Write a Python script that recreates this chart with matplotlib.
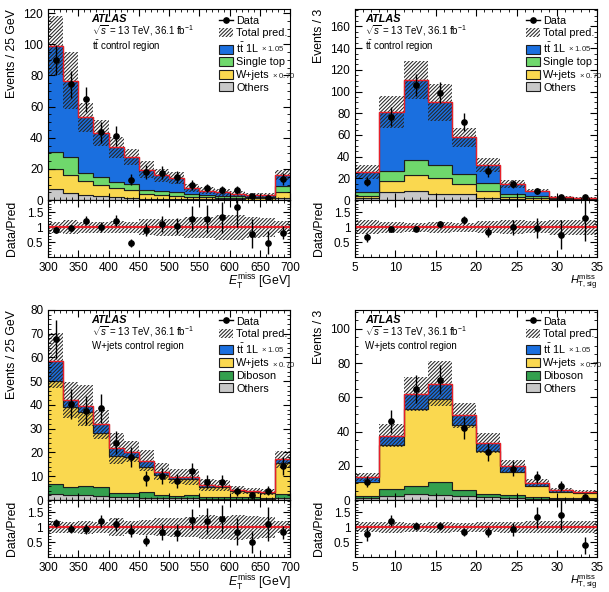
import numpy as np
import matplotlib
matplotlib.use('Agg')
import matplotlib.pyplot as plt
from matplotlib.patches import Patch
from matplotlib.lines import Line2D
from matplotlib.ticker import MultipleLocator

plt.rcParams['font.family'] = ['Liberation Sans', 'DejaVu Sans']
plt.rcParams['mathtext.fontset'] = 'custom'
plt.rcParams['mathtext.rm'] = 'Liberation Sans'
plt.rcParams['mathtext.it'] = 'Liberation Sans:italic'
plt.rcParams['mathtext.bf'] = 'Liberation Sans:bold'
plt.rcParams['hatch.linewidth'] = 0.75

# binning
met_edges = np.arange(300, 701, 25)
sig_edges = np.arange(5, 36, 3)

# ttbar control region, E_T^miss
tt_met_others = [7.2, 4.5, 3.3, 2.4, 1.7, 1.5, 1.0, 0.9, 0.6, 0.6, 0.5, 0.4, 0.4, 0.3, 0.3, 1.2]
tt_met_wjets = [12.5, 11.8, 8.7, 7.4, 5.9, 5.2, 2.9, 2.3, 2.2, 1.6, 1.2, 1.1, 0.9, 0.8, 0.8, 3.8]
tt_met_stop = [10.9, 11.5, 5.6, 5.0, 3.9, 3.7, 2.6, 2.4, 2.6, 1.7, 1.5, 1.3, 1.1, 0.9, 0.9, 4.0]
tt_met_ttbar = [68.4, 48.8, 35.4, 28.2, 22.3, 17.4, 13.0, 10.2, 8.9, 3.7, 2.9, 2.2, 1.5, 1.3, 1.3, 7.3]
tt_met_data = [90, 74.4, 64.6, 43.4, 41.2, 13, 18, 17.5, 15, 9.8, 7.8, 6.7, 6.5, 2.6, 1.6, 13.4]
tt_met_unc = [0.19, 0.24, 0.18, 0.19, 0.2, 0.19, 0.27, 0.28, 0.28, 0.35, 0.36, 0.42, 0.42, 0.36, 0.32, 0.2]

# ttbar control region, H_T,sig^miss
tt_sig_others = [2.2, 7.2, 8.4, 6.0, 5.3, 1.6, 0.8, 0.5, 0.3, 0.2]
tt_sig_wjets = [1.9, 10.0, 14.4, 14.3, 9.7, 6.8, 1.7, 1.1, 0.5, 0.4]
tt_sig_stop = [3.1, 9.9, 13.7, 12.4, 9.3, 7.5, 2.8, 1.9, 1.2, 0.6]
tt_sig_ttbar = [18.7, 54.3, 74.2, 57.3, 33.4, 16.1, 9.7, 5.3, 1.2, 1.0]
tt_sig_data = [17, 76.7, 106, 99, 72, 26.8, 15, 8.6, 2.4, 2.9]
tt_sig_unc = [0.24, 0.18, 0.16, 0.19, 0.15, 0.2, 0.24, 0.2, 0.26, 0.25]

# W+jets control region, E_T^miss
wj_met_others = [2.4, 2.1, 2.0, 1.7, 1.3, 1.1, 1.0, 0.8, 0.7, 0.7, 0.6, 0.6, 0.5, 0.5, 0.5, 1.0]
wj_met_diboson = [4.3, 3.4, 4.0, 3.9, 1.5, 1.7, 2.2, 1.3, 1.0, 1.4, 0.8, 0.8, 0.6, 0.6, 0.5, 1.5]
wj_met_wjets = [43.3, 33.8, 31.2, 22.4, 15.9, 15.4, 10.8, 8.4, 7.1, 6.7, 4.2, 3.9, 2.5, 2.2, 2.0, 12.9]
wj_met_ttbar = [8.7, 2.8, 2.5, 3.9, 3.1, 2.2, 2.6, 1.4, 1.0, 0.9, 0.7, 0.7, 0.6, 0.5, 0.5, 1.7]
wj_met_data = [67.6, 40.4, 37.5, 38.6, 24.1, 18.2, 9.1, 10.1, 8.0, 12.2, 7.7, 7.7, 3.6, 1.9, 3.9, 14.3]
wj_met_unc = [0.2, 0.18, 0.22, 0.19, 0.3, 0.21, 0.26, 0.3, 0.32, 0.34, 0.4, 0.38, 0.42, 0.38, 0.35, 0.2]

# W+jets control region, H_T,sig^miss
wj_sig_others = [1.4, 2.1, 3.3, 2.9, 2.1, 1.6, 1.0, 0.7, 0.5, 0.4]
wj_sig_diboson = [0.9, 4.1, 5.0, 7.8, 3.7, 1.9, 1.9, 1.2, 0.9, 0.8]
wj_sig_wjets = [8.4, 25.8, 45.1, 48.5, 37.9, 25.2, 13.6, 6.4, 3.5, 2.7]
wj_sig_ttbar = [2.9, 5.5, 8.7, 8.8, 5.8, 4.7, 3.3, 1.8, 0.9, 1.0]
wj_sig_data = [10.7, 46, 65, 70.3, 42.1, 28.2, 18.4, 13.5, 8.2, 1.9]
wj_sig_unc = [0.17, 0.18, 0.16, 0.19, 0.15, 0.17, 0.19, 0.2, 0.2, 0.2]

C_TT = '#1a6fdf'
C_ST = '#6fd86c'
C_WJ = '#fad84f'
C_OT = '#c8c8c8'
C_VV = '#34a04e'
HATCH_COL = '#262626'
HATCH = '/' * 9

MET_LABEL = r'$E_{\mathrm{T}}^{\mathrm{miss}}$ [GeV]'
SIG_LABEL = r'$H_{\mathrm{T,sig}}^{\mathrm{miss}}$'


def style_axis(ax, xmajor, xminor, ymajor, yminor):
    ax.xaxis.set_major_locator(MultipleLocator(xmajor))
    ax.xaxis.set_minor_locator(MultipleLocator(xminor))
    if ymajor is not None:
        ax.yaxis.set_major_locator(MultipleLocator(ymajor))
    ax.yaxis.set_minor_locator(MultipleLocator(yminor))
    ax.tick_params(which='both', direction='in', top=True, right=True, labelsize=8.5)
    ax.tick_params(which='major', length=5, width=0.8)
    ax.tick_params(which='minor', length=2.5, width=0.6)


def draw_panel(ax, rax, edges, comps, data, unc, ymax, region, xlabel, xlab_y, xlab_size,
               ylabel, atlas_x, xmajor, xminor, ymajor, yminor):
    data = np.array(data, dtype=float)
    unc = np.array(unc)
    centers = 0.5 * (edges[1:] + edges[:-1])

    # stacked backgrounds (bottom to top)
    bottom = np.zeros(len(data))
    for vals, col, lab, suffix in comps:
        top = bottom + np.array(vals)
        ax.stairs(top, edges, baseline=bottom, fill=True, facecolor=col,
                  edgecolor='#1e1e1e', lw=0.8)
        bottom = top
    total = bottom

    # uncertainty band + total line
    ax.stairs(total * (1 + unc), edges, baseline=total * (1 - unc), fill=True,
              facecolor='none', edgecolor=HATCH_COL, hatch=HATCH, lw=0)
    ax.stairs(total, edges, baseline=None, color='#e8202a', lw=1.0)

    ax.errorbar(centers, data, yerr=np.sqrt(data), fmt='o', color='k', ms=3.8,
                elinewidth=1.0, capsize=0, zorder=5)

    ax.set_xlim(edges[0], edges[-1])
    ax.set_ylim(0, ymax)
    style_axis(ax, xmajor, xminor, ymajor, yminor)
    ax.tick_params(labelbottom=False)
    ax.set_ylabel(ylabel, fontsize=8.8, loc='top')
    ax.yaxis.set_label_coords(-0.125, 1.0)

    # ATLAS label
    ax.text(atlas_x, 0.948, 'ATLAS', transform=ax.transAxes, fontsize=7.8,
            fontweight='bold', fontstyle='italic', va='center')
    ax.text(atlas_x, 0.885, r'$\sqrt{s}$ = 13 TeV, 36.1 fb$^{-1}$', transform=ax.transAxes,
            fontsize=7.0, va='center')
    ax.text(atlas_x, 0.808, region, transform=ax.transAxes, fontsize=7.0, va='center')

    # legend
    handles = [Line2D([0], [0], color='k', marker='o', ms=3.8, lw=1.0),
               Patch(facecolor='white', edgecolor=HATCH_COL, hatch=HATCH, lw=0)]
    labels = ['Data', 'Total pred.']
    suffixes = [None, None]
    for vals, col, lab, suffix in reversed(comps):
        handles.append(Patch(facecolor=col, edgecolor='#1e1e1e', lw=0.8))
        labels.append(lab)
        suffixes.append(suffix)
    leg = ax.legend(handles, labels, loc='upper left', bbox_to_anchor=(0.685, 0.995),
                    frameon=False, fontsize=7.8, handlelength=1.25, handleheight=0.9,
                    handletextpad=0.3, labelspacing=0.22, borderaxespad=0.1)

    # ratio panel
    rax.stairs(1 + unc, edges, baseline=1 - unc, fill=True, facecolor='none',
               edgecolor=HATCH_COL, hatch=HATCH, lw=0)
    rax.axhline(1.0, color='#e8202a', lw=1.6)
    rax.errorbar(centers, data / total, yerr=np.sqrt(data) / total, fmt='o', color='k',
                 ms=3.8, elinewidth=1.0, capsize=0, zorder=5)
    rax.set_xlim(edges[0], edges[-1])
    rax.set_ylim(0.0, 1.92)
    rax.set_yticks([0.5, 1.0, 1.5])
    rax.set_yticklabels(['0.5', '1', '1.5'])
    style_axis(rax, xmajor, xminor, None, 0.1)
    rax.set_ylabel('Data/Pred', fontsize=8.8)
    rax.yaxis.set_label_coords(-0.125, 0.5)
    rax.set_xlabel(xlabel, fontsize=xlab_size, loc='right')
    rax.xaxis.set_label_coords(1.0, xlab_y)
    return leg, suffixes


fig = plt.figure(figsize=(6.09, 5.92), dpi=100)

L1, L2, W = 0.0788, 0.583, 0.398
ax1 = fig.add_axes([L1, 0.662, W, 0.3226])
rx1 = fig.add_axes([L1, 0.5659, W, 0.0963])
ax2 = fig.add_axes([L2, 0.662, W, 0.3226])
rx2 = fig.add_axes([L2, 0.5659, W, 0.0963])
ax3 = fig.add_axes([L1, 0.1554, W, 0.321])
rx3 = fig.add_axes([L1, 0.0591, W, 0.0963])
ax4 = fig.add_axes([L2, 0.1554, W, 0.321])
rx4 = fig.add_axes([L2, 0.0591, W, 0.0963])

tt_lab = r't$\bar{\mathrm{t}}$ 1L'
tt_comps_met = [(tt_met_others, C_OT, 'Others', None),
                (tt_met_wjets, C_WJ, 'W+jets', r'$\times$ 0.70'),
                (tt_met_stop, C_ST, 'Single top', None),
                (tt_met_ttbar, C_TT, tt_lab, r'$\times$ 1.05')]
tt_comps_sig = [(tt_sig_others, C_OT, 'Others', None),
                (tt_sig_wjets, C_WJ, 'W+jets', r'$\times$ 0.70'),
                (tt_sig_stop, C_ST, 'Single top', None),
                (tt_sig_ttbar, C_TT, tt_lab, r'$\times$ 1.05')]
wj_comps_met = [(wj_met_others, C_OT, 'Others', None),
                (wj_met_diboson, C_VV, 'Diboson', None),
                (wj_met_wjets, C_WJ, 'W+jets', r'$\times$ 0.70'),
                (wj_met_ttbar, C_TT, tt_lab, r'$\times$ 1.05')]
wj_comps_sig = [(wj_sig_others, C_OT, 'Others', None),
                (wj_sig_diboson, C_VV, 'Diboson', None),
                (wj_sig_wjets, C_WJ, 'W+jets', r'$\times$ 0.70'),
                (wj_sig_ttbar, C_TT, tt_lab, r'$\times$ 1.05')]

tt_region = r't$\bar{\mathrm{t}}$ control region'
panels = [
    draw_panel(ax1, rx1, met_edges, tt_comps_met, tt_met_data, tt_met_unc, 122.5,
               tt_region, MET_LABEL, -0.27, 8.8, 'Events / 25 GeV', 0.18, 50, 10, 20, 5),
    draw_panel(ax2, rx2, sig_edges, tt_comps_sig, tt_sig_data, tt_sig_unc, 176,
               tt_region, SIG_LABEL, -0.27, 7.9, 'Events / 3', 0.04, 5, 1, 20, 5),
    draw_panel(ax3, rx3, met_edges, wj_comps_met, wj_met_data, wj_met_unc, 80,
               'W+jets control region', MET_LABEL, -0.27, 8.8, 'Events / 25 GeV', 0.18, 50, 10, 10, 2),
    draw_panel(ax4, rx4, sig_edges, wj_comps_sig, wj_sig_data, wj_sig_unc, 111,
               'W+jets control region', SIG_LABEL, -0.27, 7.9, 'Events / 3', 0.04, 5, 1, 20, 5),
]

# small scale-factor text after the legend labels
fig.canvas.draw()
renderer = fig.canvas.get_renderer()
for ax, (leg, suffixes) in zip([ax1, ax2, ax3, ax4], panels):
    for txt, suf in zip(leg.get_texts(), suffixes):
        if suf is None:
            continue
        bb = txt.get_window_extent(renderer)
        x, y = ax.transAxes.inverted().transform((bb.x1 + 2, bb.y0 + 0.42 * bb.height))
        ax.text(x, y, suf, transform=ax.transAxes, fontsize=5.6, va='center', color='#222222')

fig.savefig('out.png', dpi=100)
